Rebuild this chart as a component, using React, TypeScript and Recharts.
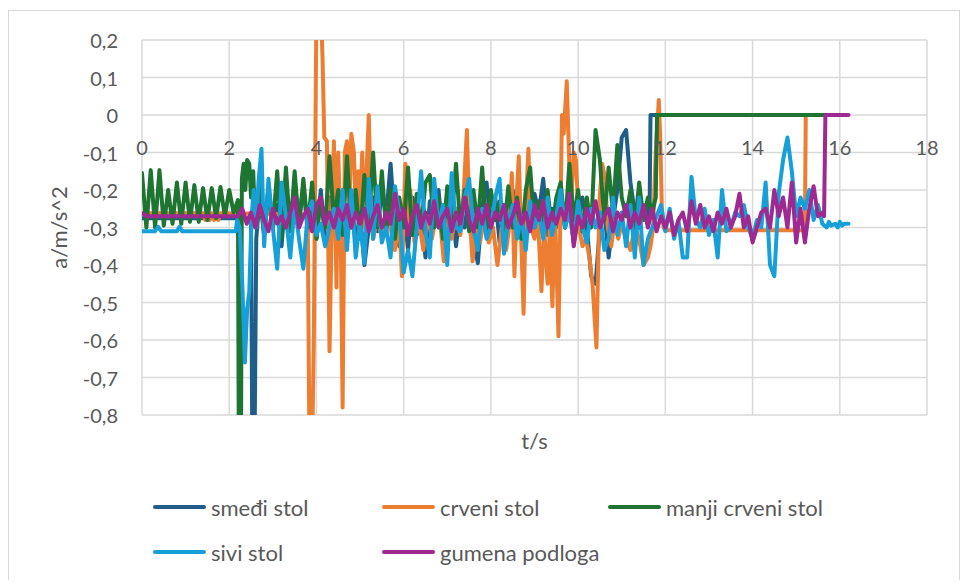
import React from "react";
import { LineChart, Line, XAxis, YAxis, CartesianGrid } from "recharts";

// sample spacing used for the noisy stretches of each recording
const STEP = 0.1;

const xTicks = [0, 2, 4, 6, 8, 10, 12, 14, 16, 18];
const yTicks = [-0.8, -0.7, -0.6, -0.5, -0.4, -0.3, -0.2, -0.1, 0, 0.1, 0.2];

// smeđi stol
const smediHead: [number, number][] = [
  [0, -0.275], [2.45, -0.275], [2.5, -0.29], [2.53, -0.9], [2.58, -0.9], [2.62, -0.33],
];
const smediNoise = [
  -0.22, -0.32, -0.19, -0.3, -0.24, -0.35, -0.2, -0.3, -0.18, -0.28,
  -0.19, -0.31, -0.25, -0.33, -0.2, -0.34, -0.22, -0.29, -0.33, -0.24,
  -0.3, -0.21, -0.35, -0.26, -0.4, -0.3, -0.22, -0.31, -0.2, -0.27,
  -0.13, -0.3, -0.35, -0.24, -0.36, -0.22, -0.32, -0.26, -0.38, -0.23,
  -0.3, -0.2, -0.33, -0.27, -0.22, -0.35, -0.25, -0.3, -0.21, -0.33,
  -0.395, -0.25, -0.18, -0.3, -0.22, -0.34, -0.26, -0.3, -0.2, -0.29,
  -0.33, -0.24, -0.3, -0.21, -0.26, -0.17, -0.32, -0.25, -0.3, -0.22,
  -0.3, -0.24, -0.34, -0.27, -0.22, -0.3, -0.43, -0.45, -0.3, -0.25,
  -0.38, -0.28, -0.2, -0.06, -0.04, -0.18, -0.26, -0.3, -0.25, -0.27,
];
const smediTail: [number, number][] = [[11.64, -0.24], [11.66, 0], [15.6, 0]];

// crveni stol
const crveniPts: [number, number][] = [
  [0, -0.262], [1.4, -0.262], [1.45, -0.28], [1.5, -0.262], [1.55, -0.28], [1.6, -0.262],
  [1.65, -0.28], [1.7, -0.262], [1.75, -0.28], [1.8, -0.262], [3.8, -0.265],
  [3.84, -0.9], [3.9, -0.9], [3.94, -0.6], [4.0, 0.3], [4.1, 0.3], [4.14, 0.15],
  [4.18, -0.06], [4.24, -0.07], [4.3, -0.63], [4.35, -0.3], [4.4, -0.07], [4.46, -0.46],
  [4.5, -0.1], [4.56, -0.35], [4.6, -0.78], [4.65, -0.1], [4.7, -0.07], [4.75, -0.27],
  [4.8, -0.05], [4.86, -0.1], [4.9, -0.26], [4.96, -0.15], [5.0, -0.25], [5.05, -0.1],
  [5.1, -0.3], [5.15, -0.15], [5.2, 0.0], [5.25, -0.24], [5.3, -0.33],
  [5.4, -0.27], [5.5, -0.33], [5.6, -0.25], [5.7, -0.3], [5.8, -0.36], [5.9, -0.28],
  [5.96, -0.43], [6.04, -0.13], [6.1, -0.3], [6.15, -0.2], [6.25, -0.34], [6.35, -0.28],
  [6.45, -0.36], [6.55, -0.27], [6.65, -0.33], [6.75, -0.26], [6.85, -0.3], [6.92, -0.39],
  [7.0, -0.28], [7.1, -0.33], [7.2, -0.25], [7.3, -0.32], [7.38, -0.2], [7.45, -0.04],
  [7.5, -0.25], [7.58, -0.39], [7.66, -0.3], [7.75, -0.34], [7.85, -0.27], [7.95, -0.34],
  [8.05, -0.3], [8.15, -0.4], [8.25, -0.3], [8.35, -0.36], [8.42, -0.3], [8.48, -0.155],
  [8.54, -0.43], [8.6, -0.2], [8.64, -0.11], [8.7, -0.35], [8.75, -0.53], [8.8, -0.25],
  [8.86, -0.09], [8.92, -0.3], [9.0, -0.33], [9.08, -0.28], [9.16, -0.47], [9.22, -0.3],
  [9.3, -0.45], [9.35, -0.3], [9.41, -0.51], [9.47, -0.25], [9.55, -0.59], [9.63, 0.0],
  [9.67, -0.05], [9.74, 0.09], [9.79, -0.1], [9.83, -0.26], [9.9, -0.1], [9.95, -0.12],
  [10.02, -0.3], [10.1, -0.35], [10.18, -0.33], [10.26, -0.38], [10.33, -0.45], [10.42, -0.62],
  [10.49, -0.23], [10.55, -0.13], [10.62, -0.17], [10.68, -0.3], [10.76, -0.35], [10.84, -0.28],
  [10.92, -0.33], [11.0, -0.29], [11.1, -0.33], [11.2, -0.36], [11.3, -0.3], [11.4, -0.33],
  [11.5, -0.4], [11.6, -0.38], [11.66, -0.35], [11.72, -0.3], [11.78, -0.1], [11.85, 0.04],
  [11.88, -0.05], [11.92, -0.25], [11.96, -0.3], [12.0, -0.307], [15.2, -0.307], [15.22, 0],
  [15.7, 0],
];

// manji crveni stol
const manjiStart = [
  -0.155, -0.3, -0.147, -0.3, -0.147, -0.295, -0.2, -0.29, -0.18, -0.29,
  -0.18, -0.285, -0.187, -0.285, -0.195, -0.28, -0.195, -0.275, -0.192, -0.27,
  -0.2, -0.26, -0.227,
];
const manjiDrop: [number, number][] = [
  [2.22, -0.9], [2.27, -0.9], [2.29, -0.17], [2.33, -0.13], [2.37, -0.2],
  [2.41, -0.12], [2.46, -0.13], [2.5, -0.22], [2.55, -0.15],
];
const manjiNoise = [
  -0.3, -0.18, -0.32, -0.2, -0.3, -0.15, -0.33, -0.14, -0.31, -0.15,
  -0.3, -0.17, -0.3, -0.18, -0.33, -0.22, -0.3, -0.11, -0.28, -0.2,
  -0.32, -0.11, -0.3, -0.2, -0.33, -0.16, -0.29, -0.1, -0.3, -0.15,
  -0.31, -0.2, -0.33, -0.22, -0.3, -0.14, -0.32, -0.21, -0.3, -0.18,
  -0.16, -0.3, -0.22, -0.33, -0.19, -0.28, -0.13, -0.3, -0.2, -0.31,
  -0.2, -0.3, -0.14, -0.32, -0.2, -0.28, -0.23, -0.31, -0.19, -0.3,
  -0.22, -0.33, -0.2, -0.14, -0.3, -0.23, -0.29, -0.2, -0.31, -0.22,
  -0.18, -0.3, -0.13, -0.28, -0.2, -0.31, -0.22, -0.3, -0.04, -0.12,
  -0.28, -0.14, -0.26, -0.08, -0.22, -0.27, -0.2, -0.3, -0.18, -0.28,
  -0.22, -0.26,
];
const manjiTail: [number, number][] = [[11.78, -0.22], [11.81, 0], [15.67, 0]];

// sivi stol
const siviHead: [number, number][] = [
  [0, -0.31], [0.3, -0.31], [0.37, -0.298], [0.44, -0.31], [0.8, -0.31], [0.86, -0.298],
  [0.92, -0.31], [2.15, -0.31], [2.18, -0.28], [2.24, -0.3], [2.3, -0.45], [2.36, -0.66],
  [2.41, -0.52], [2.46, -0.47], [2.51, -0.28], [2.56, -0.2], [2.62, -0.3], [2.67, -0.18],
  [2.74, -0.09],
];
const siviNoise = [
  -0.35, -0.17, -0.3, -0.41, -0.18, -0.27, -0.38, -0.24, -0.33, -0.41,
  -0.26, -0.23, -0.32, -0.29, -0.35, -0.3, -0.25, -0.33, -0.2, -0.36,
  -0.2, -0.38, -0.28, -0.395, -0.17, -0.33, -0.19, -0.34, -0.3, -0.38,
  -0.19, -0.26, -0.42, -0.36, -0.43, -0.3, -0.15, -0.31, -0.38, -0.17,
  -0.3, -0.24, -0.4, -0.155, -0.3, -0.31, -0.22, -0.17, -0.3, -0.36,
  -0.25, -0.33, -0.3, -0.22, -0.17, -0.37, -0.28, -0.24, -0.33, -0.27,
  -0.36, -0.23, -0.3, -0.26, -0.33, -0.22, -0.32, -0.27, -0.2, -0.3,
  -0.26, -0.34, -0.23, -0.3, -0.34, -0.25, -0.3, -0.26, -0.36, -0.33,
  -0.22, -0.32, -0.26, -0.35, -0.24, -0.38, -0.22, -0.4, -0.33, -0.3,
  -0.27, -0.24, -0.31, -0.25, -0.33, -0.28, -0.38, -0.38, -0.165, -0.28,
  -0.3, -0.25, -0.32, -0.28, -0.38, -0.2, -0.31, -0.3, -0.26, -0.27,
  -0.24, -0.3, -0.33, -0.28, -0.3, -0.18, -0.4, -0.43, -0.21, -0.12,
  -0.06, -0.15, -0.27, -0.22, -0.25, -0.2, -0.28, -0.24,
];
const siviTail: [number, number][] = [
  [15.6, -0.29], [15.7, -0.3], [15.75, -0.285], [15.8, -0.295], [15.9, -0.29],
  [15.95, -0.3], [16.0, -0.285], [16.05, -0.295], [16.1, -0.29], [16.2, -0.29],
];

// gumena podloga
const gumenaHead: [number, number][] = [[0, -0.262], [0.05, -0.265], [0.1, -0.27], [2.2, -0.27]];
const gumenaNoise = [
  -0.25, -0.29, -0.26, -0.3, -0.24, -0.28, -0.31, -0.25, -0.29, -0.27,
  -0.3, -0.26, -0.22, -0.3, -0.27, -0.25, -0.31, -0.24, -0.22, -0.29,
  -0.26, -0.3, -0.25, -0.28, -0.24, -0.3, -0.26, -0.29, -0.25, -0.31,
  -0.27, -0.24, -0.3, -0.26, -0.29, -0.21, -0.28, -0.25, -0.32, -0.27,
  -0.24, -0.3, -0.26, -0.29, -0.23, -0.3, -0.27, -0.25, -0.31, -0.26,
  -0.29, -0.22, -0.28, -0.31, -0.25, -0.29, -0.24, -0.3, -0.26, -0.28,
  -0.24, -0.3, -0.27, -0.23, -0.29, -0.26, -0.31, -0.24, -0.28, -0.23,
  -0.3, -0.26, -0.29, -0.25, -0.28, -0.21, -0.35, -0.27, -0.3, -0.25,
  -0.29, -0.23, -0.3, -0.27, -0.25, -0.31, -0.26, -0.28, -0.24, -0.3,
  -0.26, -0.29, -0.24, -0.3, -0.25, -0.31, -0.27, -0.3, -0.26, -0.32,
  -0.28, -0.26, -0.31, -0.23, -0.29, -0.24, -0.3, -0.27, -0.31, -0.26,
  -0.29, -0.25, -0.3, -0.27, -0.21, -0.3, -0.27, -0.34, -0.3, -0.26,
  -0.25, -0.3, -0.2, -0.27, -0.22, -0.3, -0.18, -0.34, -0.25, -0.34,
  -0.25, -0.19, -0.27, -0.26,
];
const gumenaTail: [number, number][] = [[15.64, -0.27], [15.67, 0], [16.2, 0]];

type Pt = { t: number; a: number };

const sampled = (t0: number, vals: number[]): [number, number][] =>
  vals.map((a, i) => [Math.round((t0 + i * STEP) * 100) / 100, a]);

const toPts = (pairs: [number, number][]): Pt[] => pairs.map(([t, a]) => ({ t, a }));

const series = [
  { name: "smeđi stol", color: "#1F5E88", data: toPts([...smediHead, ...sampled(2.7, smediNoise), ...smediTail]) },
  { name: "crveni stol", color: "#ED7D31", data: toPts(crveniPts) },
  {
    name: "manji crveni stol",
    color: "#1E7431",
    data: toPts([...sampled(0, manjiStart), ...manjiDrop, ...sampled(2.6, manjiNoise), ...manjiTail]),
  },
  { name: "sivi stol", color: "#17A0D8", data: toPts([...siviHead, ...sampled(2.8, siviNoise), ...siviTail]) },
  { name: "gumena podloga", color: "#9E2A91", data: toPts([...gumenaHead, ...sampled(2.3, gumenaNoise), ...gumenaTail]) },
];

const FONT = "Lato, 'Open Sans', sans-serif";
const TEXT = "#595959";
const GRID = "#D9D9D9";

const W = 950;
const H = 570;
const PLOT_TOP = 29;
const PLOT_H = 375;
const Y_MIN = -0.8;
const Y_MAX = 0.2;
// x labels sit just under the y = 0 line, as Excel draws them
const zeroY = PLOT_TOP + (PLOT_H * (Y_MAX - 0)) / (Y_MAX - Y_MIN);

const fmtY = (v: number) => (v === 0 ? "0" : v.toFixed(1).replace(".", ","));

const XTick = (props: any) => (
  <text x={props.x} y={zeroY + 32} textAnchor="middle" dominantBaseline="central" fill={TEXT} fontSize={20} fontFamily={FONT}>
    {props.payload.value}
  </text>
);

const YTick = (props: any) => (
  <text x={props.x} y={props.y} textAnchor="end" dominantBaseline="central" fill={TEXT} fontSize={20} fontFamily={FONT}>
    {fmtY(props.payload.value)}
  </text>
);

const legendCols = [144, 373, 599];
const legendRows = [496, 541];

export default function App() {
  return (
    <div
      style={{
        position: "relative",
        top: 2,
        width: W,
        height: H,
        border: `1px solid ${GRID}`,
        background: "#fff",
        fontFamily: FONT,
      }}
    >
      <LineChart width={W} height={H} margin={{ top: PLOT_TOP, right: 32, left: 33, bottom: 136 }}>
        <CartesianGrid stroke={GRID} strokeWidth={1.5} />
        <XAxis
          type="number"
          dataKey="t"
          domain={[0, 18]}
          ticks={xTicks}
          allowDataOverflow
          axisLine={false}
          tickLine={false}
          height={30}
          tick={<XTick />}
          label={{
            content: (p: any) => (
              <text
                x={p.viewBox.x + p.viewBox.width / 2}
                y={p.viewBox.y + 25}
                textAnchor="middle"
                dominantBaseline="central"
                fill={TEXT}
                fontSize={22}
                fontFamily={FONT}
              >
                t/s
              </text>
            ),
          }}
        />
        <YAxis
          type="number"
          domain={[Y_MIN, Y_MAX]}
          ticks={yTicks}
          allowDataOverflow
          axisLine={false}
          tickLine={false}
          tickSize={0}
          tickMargin={24}
          width={100}
          tick={<YTick />}
          label={{
            content: (p: any) => {
              const cx = p.viewBox.x + 16;
              const cy = p.viewBox.y + p.viewBox.height / 2;
              return (
                <text
                  x={cx}
                  y={cy}
                  transform={`rotate(-90 ${cx} ${cy})`}
                  textAnchor="middle"
                  dominantBaseline="central"
                  fill={TEXT}
                  fontSize={22}
                  fontFamily={FONT}
                >
                  a/m/s^2
                </text>
              );
            },
          }}
        />
        {series.map((s) => (
          <Line
            key={s.name}
            data={s.data}
            dataKey="a"
            name={s.name}
            type="linear"
            stroke={s.color}
            strokeWidth={4}
            strokeLinejoin="round"
            strokeLinecap="round"
            dot={false}
            activeDot={false}
            isAnimationActive={false}
          />
        ))}
      </LineChart>
      {series.map((s, i) => (
        <div
          key={s.name}
          style={{
            position: "absolute",
            left: legendCols[i % 3],
            top: legendRows[Math.floor(i / 3)] - 15,
            height: 30,
            display: "flex",
            alignItems: "center",
            whiteSpace: "nowrap",
          }}
        >
          <span style={{ display: "inline-block", width: 53, height: 4, borderRadius: 2, background: s.color }} />
          <span style={{ marginLeft: 5, fontSize: 22, color: TEXT }}>{s.name}</span>
        </div>
      ))}
    </div>
  );
}
